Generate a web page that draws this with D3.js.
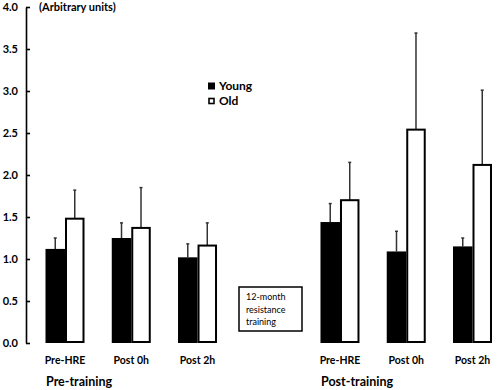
<!DOCTYPE html>
<html><head><meta charset="utf-8">
<script src="https://cdn.jsdelivr.net/npm/d3@7"></script>
<style>body{margin:0;background:#fff}svg{display:block}text{font-family:Lato,"Open Sans",sans-serif}</style>
</head><body>
<script>
const categories = ["Pre-HRE","Post 0h","Post 2h","Pre-HRE","Post 0h","Post 2h"];
const phases = ["Pre-training","Pre-training","Pre-training","Post-training","Post-training","Post-training"];
const phaseLabels = ["Pre-training","Post-training"];
const series = ["Young","Old"];
const youngMean = [1.12,1.25,1.02,1.44,1.09,1.15];
const youngErr  = [0.13,0.18,0.16,0.22,0.24,0.10];
const oldMean   = [1.48,1.37,1.16,1.70,2.54,2.12];
const oldErr    = [0.34,0.48,0.27,0.45,1.15,0.89];
const yTicks = [0,0.5,1,1.5,2,2.5,3,3.5,4];
const yTitle = "(Arbitrary units)";
const noteLines = ["12-month","resistance","training"];

const W=500,H=390;
const svg=d3.select("body").append("svg").attr("width",W).attr("height",H);
const y=d3.scaleLinear().domain([0,4]).range([343,7]);
// slot positions: groups within a phase are consecutive, phases separated by a wider gap
const gap=2.15;
const pos=categories.map((c,i)=> i<3 ? i : i-1+gap);
const x=d3.scaleLinear().domain([0,6.15]).range([65,472.5]);
const bw=19.5;

const axis=d3.axisLeft(y).tickValues(yTicks).tickFormat(d3.format(".1f")).tickSizeInner(-4).tickSizeOuter(0).tickPadding(8);
const ag=svg.append("g").attr("transform","translate(26,0)").call(axis);
ag.select(".domain").attr("stroke","#000").attr("stroke-width",1.6);
ag.selectAll(".tick line").attr("stroke","#000").attr("stroke-width",1.6);
ag.selectAll(".tick text").attr("font-size",11).attr("font-weight","bold").attr("fill","#000");

svg.append("text").attr("x",39).attr("y",11).attr("font-size",11).attr("font-weight","bold").text(yTitle);

const data=categories.map((c,i)=>({c,i,p:pos[i]}));
const g=svg.append("g");
// error bars
function err(mean,e,off){
  g.selectAll(null).data(data).enter().append("line")
   .attr("x1",d=>x(d.p)+off).attr("x2",d=>x(d.p)+off)
   .attr("y1",d=>y(mean[d.i])).attr("y2",d=>y(mean[d.i]+e[d.i]))
   .attr("stroke","#333").attr("stroke-width",1.5);
  g.selectAll(null).data(data).enter().append("line")
   .attr("x1",d=>x(d.p)+off-1.5).attr("x2",d=>x(d.p)+off+1.5)
   .attr("y1",d=>y(mean[d.i]+e[d.i])).attr("y2",d=>y(mean[d.i]+e[d.i]))
   .attr("stroke","#333").attr("stroke-width",1.5);
}
err(youngMean,youngErr,-bw/2);
err(oldMean,oldErr,bw/2);
g.selectAll(null).data(data).enter().append("rect")
 .attr("x",d=>x(d.p)-bw).attr("width",bw)
 .attr("y",d=>y(youngMean[d.i])).attr("height",d=>y(0)-y(youngMean[d.i]))
 .attr("fill","#000");
g.selectAll(null).data(data).enter().append("rect")
 .attr("x",d=>x(d.p)+1).attr("width",bw-2)
 .attr("y",d=>y(oldMean[d.i])).attr("height",d=>y(0)-y(oldMean[d.i])-1)
 .attr("fill","#fff").attr("stroke","#000").attr("stroke-width",2);

svg.selectAll(null).data(data).enter().append("text")
 .attr("x",d=>x(d.p)).attr("y",364).attr("text-anchor","middle")
 .attr("font-size",10.5).attr("font-weight","bold").text(d=>d.c);

const phaseX={"Pre-training":46,"Post-training":321};
svg.selectAll(null).data(phaseLabels).enter().append("text")
 .attr("x",d=>phaseX[d]).attr("y",386).attr("font-size",12.5).attr("font-weight","bold").text(d=>d);

// legend
const lg=svg.append("g");
series.forEach((s,i)=>{
  const yy=86+i*15;
  lg.append("rect").attr("x",208).attr("y",yy-3.5).attr("width",i?5:7).attr("height",i?5:7)
    .attr("fill",i?"#fff":"#000").attr("stroke",i?"#000":"none").attr("stroke-width",1.6)
    .attr("transform",i?"translate(1,1)":null);
  lg.append("text").attr("x",219).attr("y",yy+4).attr("font-size",12).attr("font-weight","bold").text(s);
});

// note box
svg.append("rect").attr("x",239).attr("y",287).attr("width",63).attr("height",44)
 .attr("fill","#fff").attr("stroke","#000").attr("stroke-width",1.5);
svg.selectAll(null).data(noteLines).enter().append("text")
 .attr("x",246).attr("y",(d,i)=>300+i*12.5).attr("font-size",9).text(d=>d);
</script>
</body></html>
